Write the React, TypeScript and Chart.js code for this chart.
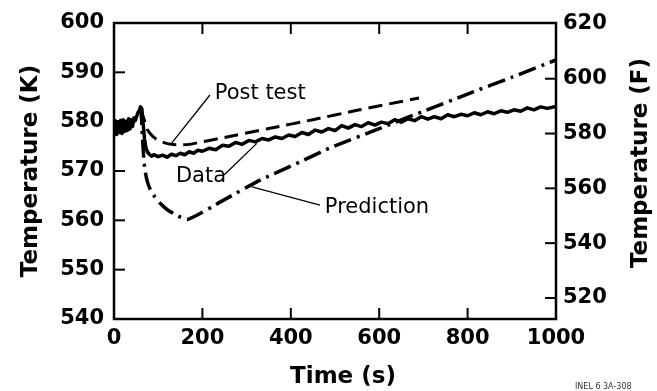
import React, { useEffect, useRef } from 'react';
import { Chart, registerables } from 'chart.js';
Chart.register(...registerables);

// ---- data ----
const dataTimes = [0, 3, 6, 9, 12, 15, 18, 21, 24, 27, 30, 33, 36, 39, 42,
  45, 48, 51, 54, 57, 60, 63, 66, 69, 72, 76, 80, 85, 90,
  100, 110, 120, 130, 140, 150, 160, 170, 180, 190, 200,
  215, 230, 245, 260, 275, 290, 305, 320, 335, 350,
  365, 380, 395, 410, 425, 440, 455, 470, 485, 500,
  515, 530, 545, 560, 575, 590, 605, 620, 635, 650,
  665, 680, 695, 710, 725, 740, 755, 770, 785, 800,
  815, 830, 845, 860, 875, 890, 905, 920, 935, 950,
  965, 980, 1000];
const dataTemps = [577.5, 580.2, 577.4, 580.0, 577.8, 580.3, 577.6, 580.4, 578.0, 580.1, 578.2, 580.6, 578.5, 580.4, 579.0,
  580.8, 580.2, 581.0, 581.8, 582.2, 583.0, 582.6, 579.5, 576.5, 574.8, 573.8, 573.4, 573.0, 573.3,
  572.9, 573.2, 572.8, 573.4, 573.1, 573.6, 573.3, 573.9, 573.6, 574.2, 574.0,
  574.6, 574.3, 575.2, 575.0, 575.8, 575.4, 576.2, 575.9, 576.6, 576.3,
  576.9, 576.6, 577.3, 577.0, 577.8, 577.4, 578.3, 577.9, 578.6, 578.2,
  579.2, 578.7, 579.4, 579.0, 579.8, 579.3, 579.9, 579.6, 580.4, 579.9,
  580.6, 580.2, 581.0, 580.5, 581.0, 580.6, 581.4, 581.0, 581.5, 581.2,
  581.8, 581.4, 582.0, 581.6, 582.2, 581.9, 582.4, 582.1, 582.8, 582.4,
  583.0, 582.7, 583.1];

const postTimes = [60, 68, 76, 88, 100, 115, 130, 150, 170, 250, 350, 450, 550, 690];
const postTemps = [582.6, 580.5, 578.3, 577.0, 576.2, 575.7, 575.4, 575.3, 575.4, 576.8, 578.6, 580.4, 582.3, 584.8];

const predTimes = [60, 62, 64, 67, 70, 75, 82, 92, 105, 120, 140, 167, 250, 323, 420, 487, 600, 700, 800, 900, 1000];
const predTemps = [583.0, 581.0, 577.5, 573.0, 570.2, 568.0, 566.3, 564.8, 563.4, 562.2, 561.1, 560.2, 564.2, 567.8, 571.8, 574.6, 578.6, 582.1, 585.6, 589.0, 592.5];

const xTicks = [0, 200, 400, 600, 800, 1000];
const kTicks = [540, 550, 560, 570, 580, 590, 600];
const fTicks = [520, 540, 560, 580, 600, 620];

const xTitle = 'Time (s)';
const yTitleK = 'Temperature (K)';
const yTitleF = 'Temperature (F)';
const credit = 'INEL 6 3A-308';

// labels with leader lines (data units)
const notes = [
  { text: 'Post test', at: [228, 585.8], from: [217, 585.4], to: [131, 575.7] },
  { text: 'Data', at: [140, 568.8], from: [249, 569.2], to: [323, 575.6] },
  { text: 'Prediction', at: [477, 562.6], from: [466, 563.1], to: [312, 566.8] },
];

const W = 657;
const H = 391;
const FONT = '"DejaVu Sans", "Liberation Sans", Arial, sans-serif';
const kToF = (k: number) => k * 9 / 5 - 459.67;

const pts = (xs: number[], ys: number[]) => xs.map((x, i) => ({ x, y: ys[i] }));

const framePlugin = {
  id: 'frame',
  afterDatasetsDraw(chart: any) {
    const { ctx, chartArea: { left, right, top, bottom }, scales } = chart;
    const x = scales.x, y = scales.y, y2 = scales.y2;
    ctx.save();
    ctx.strokeStyle = '#000';
    ctx.lineWidth = 2.5;
    ctx.strokeRect(left, top, right - left, bottom - top);
    ctx.lineWidth = 2;
    const seg = (a: number, b: number, c: number, d: number) => {
      ctx.beginPath(); ctx.moveTo(a, b); ctx.lineTo(c, d); ctx.stroke();
    };
    xTicks.forEach(v => {
      if (v === 0 || v === 1000) return;
      const px = x.getPixelForValue(v);
      seg(px, bottom, px, bottom - 11);
      seg(px, top, px, top + 11);
    });
    kTicks.forEach(v => {
      if (v === 540 || v === 600) return;
      const py = y.getPixelForValue(v);
      seg(left, py, left + 11, py);
    });
    fTicks.forEach(v => {
      const py = y2.getPixelForValue(v);
      if (py < top + 2) return;
      seg(right, py, right - 11, py);
    });

    // leader lines and labels
    ctx.lineWidth = 1.3;
    ctx.fillStyle = '#000';
    ctx.font = `21px ${FONT}`;
    ctx.textBaseline = 'middle';
    ctx.textAlign = 'left';
    notes.forEach(n => {
      seg(x.getPixelForValue(n.from[0]), y.getPixelForValue(n.from[1]),
        x.getPixelForValue(n.to[0]), y.getPixelForValue(n.to[1]));
      ctx.fillText(n.text, x.getPixelForValue(n.at[0]), y.getPixelForValue(n.at[1]));
    });

    // axis titles
    ctx.font = `bold 23px ${FONT}`;
    ctx.textAlign = 'center';
    ctx.textBaseline = 'alphabetic';
    ctx.fillText(xTitle, 343, 383);
    ctx.save();
    ctx.translate(37, (top + bottom) / 2);
    ctx.rotate(-Math.PI / 2);
    ctx.fillText(yTitleK, 0, 0);
    ctx.restore();
    ctx.save();
    ctx.translate(647, 163);
    ctx.rotate(-Math.PI / 2);
    ctx.fillText(yTitleF, 0, 0);
    ctx.restore();

    ctx.font = `8px ${FONT}`;
    ctx.fillStyle = '#333';
    ctx.textAlign = 'left';
    ctx.fillText(credit, 575, 389);
    ctx.restore();
  },
};

export default function App() {
  const ref = useRef<HTMLCanvasElement>(null);
  useEffect(() => {
    if (!ref.current) return;
    const tickFont = { family: FONT, size: 21, weight: 'bold' as const };
    const plain = (v: any) => String(v);
    const chart = new Chart(ref.current, {
      type: 'line',
      data: {
        datasets: [
          {
            label: 'Data', data: pts(dataTimes, dataTemps), borderColor: '#000', borderWidth: 3.5,
            pointRadius: 0, tension: 0, yAxisID: 'y', borderJoinStyle: 'round' as const,
          },
          {
            label: 'Post test', data: pts(postTimes, postTemps), borderColor: '#000', borderWidth: 3,
            borderDash: [14, 7], pointRadius: 0, tension: 0.2, yAxisID: 'y',
          },
          {
            label: 'Prediction', data: pts(predTimes, predTemps), borderColor: '#000', borderWidth: 3.5,
            borderDash: [18, 6, 3, 6], pointRadius: 0, tension: 0.2, yAxisID: 'y',
          },
        ],
      },
      options: {
        animation: false,
        responsive: false,
        devicePixelRatio: 1,
        layout: { padding: { top: 23, left: 0, right: 0, bottom: 0 } },
        plugins: { legend: { display: false }, tooltip: { enabled: false } },
        scales: {
          x: {
            type: 'linear', min: 0, max: 1000,
            afterBuildTicks: (s: any) => { s.ticks = xTicks.map(v => ({ value: v })); },
            ticks: { font: tickFont, color: '#000', padding: 7, maxRotation: 0, autoSkip: false, callback: plain },
            grid: { display: false, drawTicks: false },
            border: { display: false },
            afterFit: (s: any) => { s.height = H - 319; },
          },
          y: {
            type: 'linear', position: 'left', min: 540, max: 600,
            afterBuildTicks: (s: any) => { s.ticks = kTicks.map(v => ({ value: v })); },
            ticks: { font: tickFont, color: '#000', padding: 10, autoSkip: false, callback: plain },
            grid: { display: false, drawTicks: false },
            border: { display: false },
            afterFit: (s: any) => { s.width = 114; },
          },
          y2: {
            type: 'linear', position: 'right', min: kToF(540), max: kToF(600),
            afterBuildTicks: (s: any) => { s.ticks = fTicks.map(v => ({ value: v })); },
            ticks: { font: tickFont, color: '#000', padding: 7, autoSkip: false, callback: plain },
            grid: { display: false, drawTicks: false },
            border: { display: false },
            afterFit: (s: any) => { s.width = W - 556; },
          },
        },
      },
      plugins: [framePlugin],
    });
    return () => chart.destroy();
  }, []);
  return (
    <div style={{ position: 'fixed', left: 0, top: 0, width: W, height: H, background: '#fff' }}>
      <canvas ref={ref} width={W} height={H} style={{ width: W, height: H }} />
    </div>
  );
}
